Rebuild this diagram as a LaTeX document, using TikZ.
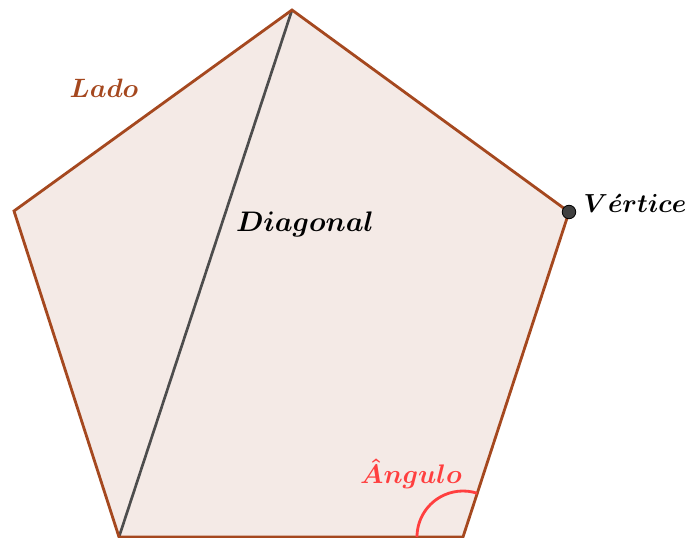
\documentclass[tikz,border=0pt]{standalone}
\usepackage{amsmath}
\usepackage{bm}
\usepackage{graphicx}
\usepackage{xcolor}
\usepackage{tikz}
\usetikzlibrary{positioning,calc}
\definecolor{pfill}{HTML}{F4EAE6}
\definecolor{pedge}{HTML}{A5481F}
\definecolor{pdiag}{HTML}{4D4D4D}
\definecolor{pdot}{HTML}{404040}
\definecolor{pred}{HTML}{FF3F3F}
\newcommand{\plabel}[2]{\scalebox{#1}{$\bm{#2}$}}

\begin{document}
\begin{tikzpicture}[x=0.025cm,y=-0.025cm,every node/.style={font=\fontsize{20.74}{22}\selectfont,inner sep=1pt}]
  \useasboundingbox (0,0) rectangle (686,538);
  \coordinate (A) at (119,537);
  \coordinate (B) at (463,537);
  \coordinate (C) at (569,212);
  \coordinate (D) at (292,10);
  \coordinate (E) at (14,211);

  \fill[pfill] (A) -- (B) -- (C) -- (D) -- (E) -- cycle;
  \draw[pdiag,line width=1.9pt] (A) -- (D);
  \draw[pedge,line width=2pt,line join=miter] (A) -- (B) -- (C) -- (D) -- (E) -- cycle;

  \draw[pred,line width=2pt] ($(B)+(-46,0)$) arc[start angle=180,end angle=288,radius=46];
  \fill[pdot,draw=black,line width=0.6pt] (C) circle (4.8pt);

  \node[text=pedge] (lado) at (104,88) {\plabel{0.91}{Lado}};
  \node[text=black] (diag) at (305,224) {\plabel{0.97}{Diagonal}};
  \node[text=black,anchor=west] (vert) at (582,203) {\plabel{0.895}{V\acute{e}rtice}};
  \node[text=pred] (ang) at (411,474) {\plabel{0.92}{\hat{A}ngulo}};
\end{tikzpicture}
\end{document}
